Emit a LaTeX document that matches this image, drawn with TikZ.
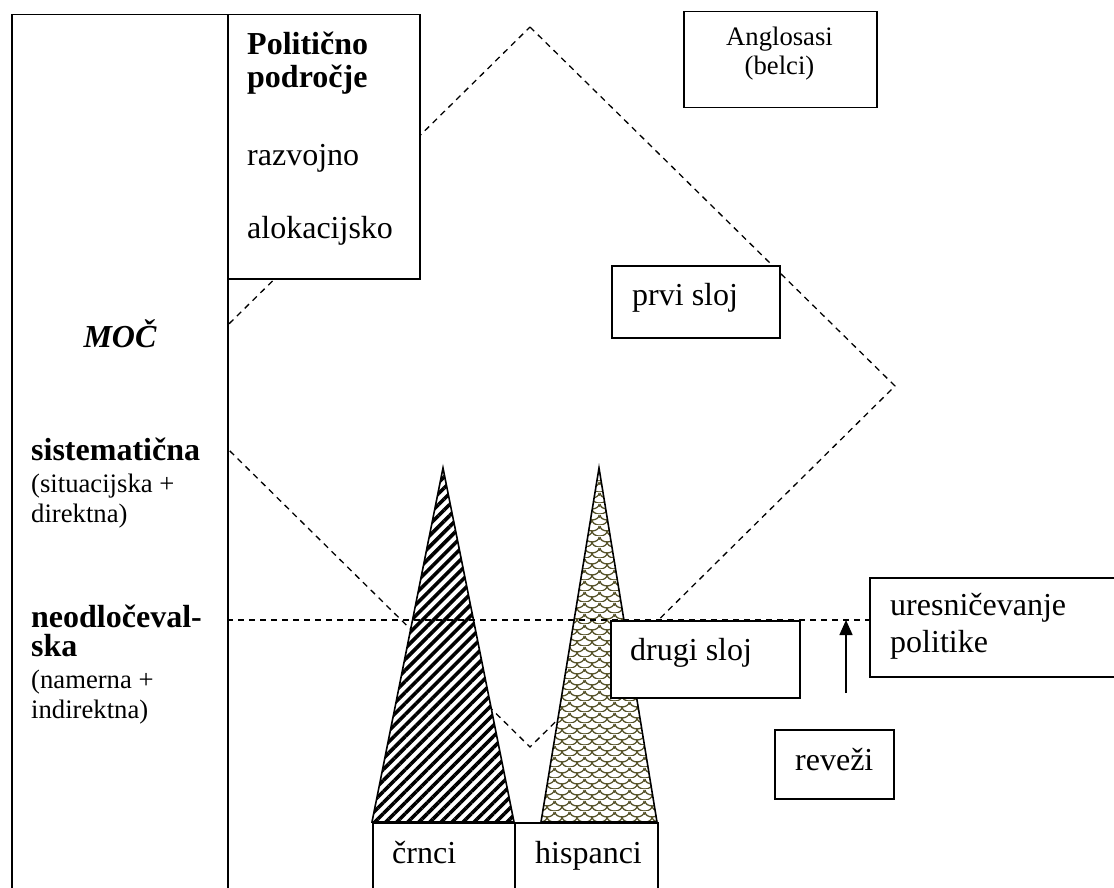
\documentclass[tikz,border=0pt]{standalone}
\usepackage{fontspec}
\setmainfont{Liberation Serif}
\usetikzlibrary{patterns.meta,arrows.meta}
\definecolor{olivel}{HTML}{57532A}
\tikzdeclarepattern{
  name=scales,
  type=colored,
  bottom left={(0pt,0pt)},
  top right={(15pt,11pt)},
  tile size={(15pt,11pt)},
  code={
    \draw[olivel, line width=1.4pt]
      (0pt,11pt) arc[start angle=180, end angle=360, x radius=7.5pt, y radius=5.5pt]
      (-7.5pt,5.5pt) arc[start angle=180, end angle=360, x radius=7.5pt, y radius=5.5pt]
      (7.5pt,5.5pt) arc[start angle=180, end angle=360, x radius=7.5pt, y radius=5.5pt];
  }
}
\begin{document}
\begin{tikzpicture}[x=1pt,y=-1pt,
  box/.style={draw, line width=1.5pt, fill=white, inner sep=0pt, anchor=north west},
  dline/.style={dashed, dash pattern=on 6pt off 5pt, line width=1.3pt},
  tri/.style={line width=1.6pt, line join=miter},
  big/.style={inner sep=0pt, anchor=base west, font=\fontsize{32}{36}\selectfont},
  bigb/.style={big, font=\fontsize{32}{36}\selectfont\bfseries},
  small/.style={inner sep=0pt, anchor=base west, font=\fontsize{26.67}{30}\selectfont}
]
\useasboundingbox (0,0) rectangle (1114,888);
\clip (0,0) rectangle (1114,888);

% diamond
\coordinate (dT) at (530,27);
\coordinate (dR) at (895,386);
\coordinate (dB) at (530,747);
\coordinate (dL) at (165,387);
\draw[dline] (dT) -- (dR) -- (dB) -- (dL) -- cycle;

% left column and political box
\node[box, minimum width=216, minimum height=900] (col) at (11,14) {};
\node[box, minimum width=192, minimum height=264] (pol) at (227,14) {};

% triangles
\coordinate (aA) at (443,468);
\coordinate (aL) at (372,822);
\coordinate (aR) at (514,822);
\coordinate (bA) at (599,468);
\coordinate (bL) at (541,822);
\coordinate (bR) at (657,822);
\fill[white] (aA) -- (aL) -- (aR) -- cycle;
\path[pattern={Lines[angle=45,distance=7.8pt,line width=3.6pt]}, pattern color=black] (aA) -- (aL) -- (aR) -- cycle;
\draw[tri] (aA) -- (aL) -- (aR) -- cycle;
\fill[white] (bA) -- (bL) -- (bR) -- cycle;
\path[pattern=scales] (bA) -- (bL) -- (bR) -- cycle;
\draw[tri] (bA) -- (bL) -- (bR) -- cycle;

% boxes
\node[box, minimum width=193, minimum height=96] (ang) at (683,11) {};
\node[box, minimum width=168, minimum height=72] (prvi) at (611,265) {};
\node[box, minimum width=260, minimum height=99] (ures) at (869,577) {};
\node[box, minimum width=119, minimum height=69] (revezi) at (774,729) {};
\node[box, minimum width=142, minimum height=90] (crnci) at (372,822) {};
\node[box, minimum width=143, minimum height=90] (hisp) at (514,822) {};

% horizontal dashed line
\coordinate (hL) at (227,620);
\draw[dline] (hL) -- (ures.west |- hL);
\node[box, minimum width=189, minimum height=77] (drugi) at (610,620) {};

% arrow
\coordinate (arrS) at (846,693);
\draw[line width=1.5pt, -{Triangle[length=15pt,width=13pt]}] (arrS) -- (arrS |- hL);

% texts
\node[bigb] (t1) at (247,55) {Politično};
\node[bigb] (t2) at (247,88) {področje};
\node[big] (t3) at (247,165) {razvojno};
\node[big] (t4) at (247,238) {alokacijsko};
\node[inner sep=0pt, anchor=base, font=\fontsize{32}{36}\selectfont\bfseries\itshape] (moc) at (120,347) {MOČ};
\node[bigb] (s1) at (31,460) {sistematična};
\node[small] (s2) at (31,492) {(situacijska +};
\node[small] (s3) at (31,522) {direktna)};
\node[bigb] (n1) at (31,627) {neodločeval-};
\node[bigb] (n2) at (31,656) {ska};
\node[small] (n3) at (31,688) {(namerna +};
\node[small] (n4) at (31,718) {indirektna)};
\node[small, anchor=base] (a1) at (779.5,46) {Anglosasi};
\node[small, anchor=base] (a2) at (779.5,75) {(belci)};
\node[big] (p1) at (632,305) {prvi sloj};
\node[big] (d1) at (630,660) {drugi sloj};
\node[big] (u1) at (890,615) {uresničevanje};
\node[big] (u2) at (890,652) {politike};
\node[big] (r1) at (795,770) {reveži};
\node[big] (c1) at (392,863) {črnci};
\node[big] (h1) at (535,863) {hispanci};
\end{tikzpicture}
\end{document}
